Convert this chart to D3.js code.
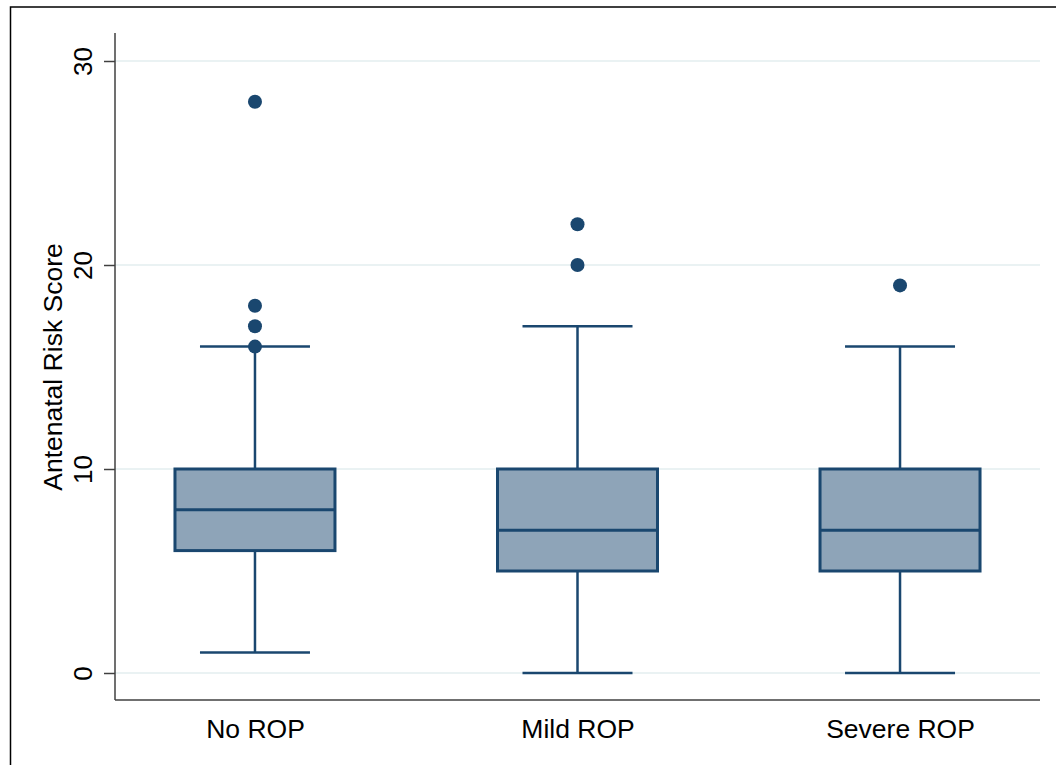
<!DOCTYPE html>
<html>
<head>
<meta charset="utf-8">
<script src="https://cdn.jsdelivr.net/npm/d3@7"></script>
<style>
  html, body { margin: 0; padding: 0; background: #fff; }
  svg { display: block; font-family: "Liberation Sans", Arial, sans-serif; }
</style>
</head>
<body>
<svg id="chart" width="1056" height="765"></svg>
<script>
const categories = ["No ROP", "Mild ROP", "Severe ROP"];
const lowerWhisker = [1, 0, 0];
const q1 = [6, 5, 5];
const median = [8, 7, 7];
const q3 = [10, 10, 10];
const upperWhisker = [16, 17, 16];
const outliers = [[16, 17, 18, 28], [20, 22], [19]];
const yTicks = [0, 10, 20, 30];
const yTitle = "Antenatal Risk Score";

const svg = d3.select("#chart");
const W = 1056, H = 765;
const plotLeft = 115, plotRight = 1040, plotTop = 33, plotBottom = 700;
const navy = "#1a476f";
const FONT = "Liberation Sans, Arial, sans-serif";

// outer frame
svg.append("rect").attr("x", 10.5).attr("y", 7).attr("width", W).attr("height", H)
  .attr("fill", "none").attr("stroke", "#000").attr("stroke-width", 1.5);

const y = d3.scaleLinear().domain([0, 30]).range([673, 61]);
const x = d3.scalePoint().domain(categories).range([plotLeft, plotRight]).padding(0.434);

// gridlines
svg.append("g").selectAll("line").data(yTicks).join("line")
  .attr("x1", plotLeft).attr("x2", plotRight)
  .attr("y1", d => y(d)).attr("y2", d => y(d))
  .attr("stroke", "#eaf2f3").attr("stroke-width", 2);

// y axis
const yAxis = svg.append("g").attr("transform", `translate(${plotLeft},0)`)
  .call(d3.axisLeft(y).tickValues(yTicks).tickSize(11).tickPadding(8));
yAxis.attr("font-size", null).attr("font-family", null);
yAxis.select(".domain").attr("d", `M0,${plotTop}V${plotBottom}`).attr("stroke", "#404040").attr("stroke-width", 1.5);
yAxis.selectAll(".tick line").attr("stroke", "#404040").attr("stroke-width", 1.5);
yAxis.selectAll(".tick text")
  .attr("transform", "rotate(-90)")
  .attr("x", 0).attr("y", -23).attr("dy", 0)
  .attr("text-anchor", "middle")
  .style("font-size", "26px").attr("fill", "#000")
  .style("font-family", FONT);

// x axis
const xAxis = svg.append("g").attr("transform", `translate(0,${plotBottom})`)
  .call(d3.axisBottom(x).tickSize(0));
xAxis.attr("font-size", null).attr("font-family", null);
xAxis.select(".domain").attr("d", `M${plotLeft},0H${plotRight}`).attr("stroke", "#404040").attr("stroke-width", 1.5);
xAxis.selectAll(".tick text")
  .attr("y", 38).attr("dy", 0)
  .style("font-size", "26.5px").attr("fill", "#000")
  .style("font-family", FONT);

// y title
svg.append("text")
  .attr("transform", `translate(62,${(y(0) + y(30)) / 2}) rotate(-90)`)
  .attr("text-anchor", "middle").style("font-size", "26.5px").attr("fill", "#000")
  .style("font-family", FONT)
  .text(yTitle);

const boxW = 160, capW = 110;
const data = categories.map((c, i) => ({
  c, lo: lowerWhisker[i], q1: q1[i], med: median[i], q3: q3[i], hi: upperWhisker[i], out: outliers[i]
}));

const g = svg.append("g");
data.forEach(d => {
  const cx = x(d.c);
  g.append("line").attr("x1", cx).attr("x2", cx).attr("y1", y(d.q3)).attr("y2", y(d.hi))
    .attr("stroke", navy).attr("stroke-width", 2.5);
  g.append("line").attr("x1", cx).attr("x2", cx).attr("y1", y(d.q1)).attr("y2", y(d.lo))
    .attr("stroke", navy).attr("stroke-width", 2.5);
  g.append("line").attr("x1", cx - capW / 2).attr("x2", cx + capW / 2).attr("y1", y(d.hi)).attr("y2", y(d.hi))
    .attr("stroke", navy).attr("stroke-width", 2.5);
  g.append("line").attr("x1", cx - capW / 2).attr("x2", cx + capW / 2).attr("y1", y(d.lo)).attr("y2", y(d.lo))
    .attr("stroke", navy).attr("stroke-width", 2.5);
  g.append("rect").attr("x", cx - boxW / 2).attr("y", y(d.q3))
    .attr("width", boxW).attr("height", y(d.q1) - y(d.q3))
    .attr("fill", "#8ea4b8").attr("stroke", navy).attr("stroke-width", 3);
  g.append("line").attr("x1", cx - boxW / 2).attr("x2", cx + boxW / 2).attr("y1", y(d.med)).attr("y2", y(d.med))
    .attr("stroke", navy).attr("stroke-width", 3);
  g.selectAll(null).data(d.out).join("circle")
    .attr("cx", cx).attr("cy", v => y(v)).attr("r", 7)
    .attr("fill", navy);
});
</script>
</body>
</html>
